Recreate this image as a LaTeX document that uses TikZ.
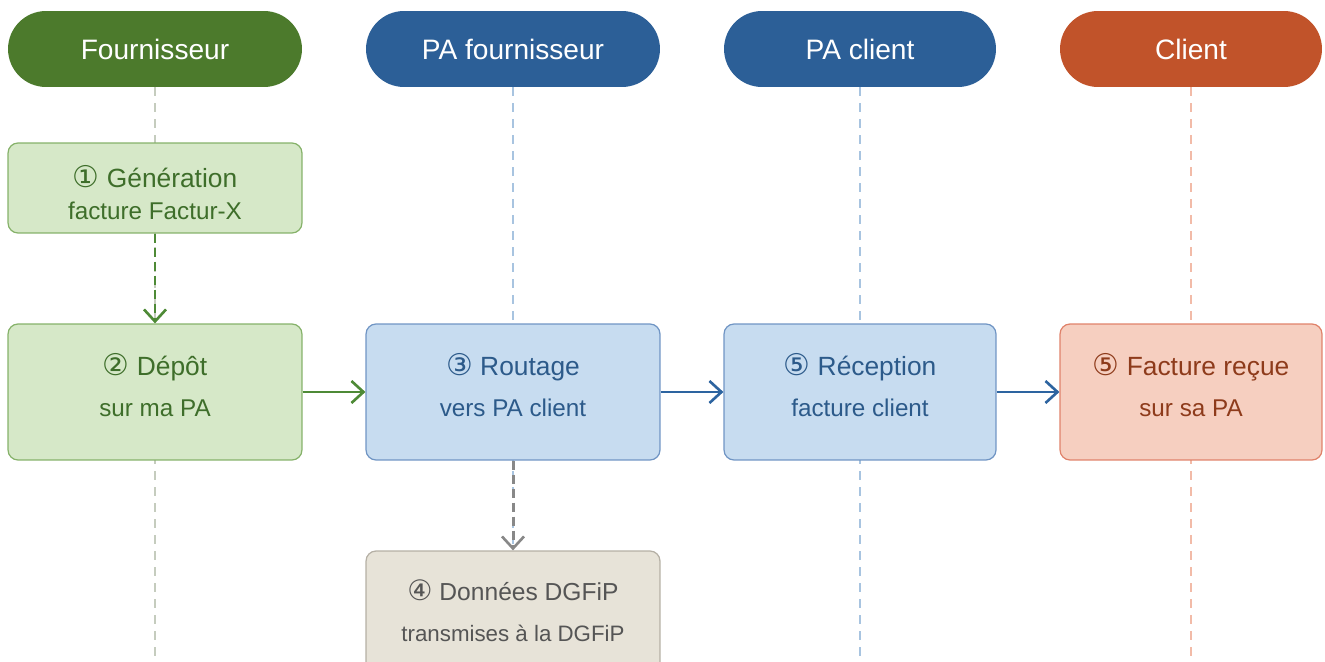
\documentclass[tikz,border=0pt]{standalone}
\usepackage{fontspec}
\setmainfont{Liberation Sans}
\newfontfamily\circfont{DejaVu Sans}
\usetikzlibrary{arrows.meta}
\definecolor{hGreen}{HTML}{4C7A2C}
\definecolor{hBlue}{HTML}{2C5F97}
\definecolor{hRed}{HTML}{C1532A}
\definecolor{gFill}{HTML}{D6E8C8}
\definecolor{gLine}{HTML}{86B26A}
\definecolor{gText}{HTML}{3E6E2A}
\definecolor{bFill}{HTML}{C7DCF0}
\definecolor{bLine}{HTML}{7095C4}
\definecolor{bText}{HTML}{2C5A8A}
\definecolor{rFill}{HTML}{F6CFC0}
\definecolor{rLine}{HTML}{E0826A}
\definecolor{rText}{HTML}{8E3B1B}
\definecolor{yFill}{HTML}{E7E3D8}
\definecolor{yLine}{HTML}{B5B0A5}
\definecolor{yText}{HTML}{555555}
\definecolor{lG}{HTML}{C5CCBE}
\definecolor{lB}{HTML}{A8C4E0}
\definecolor{lR}{HTML}{F2BBA8}
\definecolor{aG}{HTML}{4E8A36}
\definecolor{aB}{HTML}{2D64A0}
\definecolor{aY}{HTML}{888888}
\newcommand{\cnum}[1]{{\circfont\fontsize{17}{17}\selectfont #1}}
\tikzset{
  header/.style={rectangle, rounded corners=0.76cm, minimum height=1.52cm, text=white,
    font=\fontsize{16}{19}\selectfont, inner sep=0pt},
  lifeline/.style={line width=0.6pt, dash pattern=on 1.8mm off 1.4mm},
  stepbox/.style={rectangle, rounded corners=0.2cm, line width=0.7pt, minimum height=2.72cm, inner sep=0pt},
  ttl/.style={font=\fontsize{15}{18}\selectfont, inner sep=0pt},
  sub/.style={font=\fontsize{13.8}{16}\selectfont, inner sep=0pt},
  arr/.style={line width=1.5pt, -{Straight Barb[length=2.4mm,width=4.4mm,line width=1.5pt]}},
  darr/.style={arr, line width=1.7pt, dash pattern=on 1.8mm off 1mm},
}
\begin{document}
\begin{tikzpicture}[x=0.02cm,y=-0.02cm]
\path[clip] (0,0) rectangle (1325,662);
% headers
\node[header, fill=hGreen, minimum width=5.88cm] (hF) at (155,49) {Fournisseur};
\node[header, fill=hBlue, minimum width=5.88cm] (hPF) at (513,49) {PA fournisseur};
\node[header, fill=hBlue, minimum width=5.44cm] (hPC) at (860,49) {PA client};
\node[header, fill=hRed, minimum width=5.24cm] (hC) at (1191,49) {Client};
\coordinate (eF) at (155,662);
\coordinate (ePF) at (513,662);
\coordinate (ePC) at (860,662);
\coordinate (eC) at (1191,662);
% lifelines
\draw[lifeline, draw=lG] (hF.south) -- (eF);
\draw[lifeline, draw=lB] (hPF.south) -- (ePF);
\draw[lifeline, draw=lB] (hPC.south) -- (ePC);
\draw[lifeline, draw=lR] (hC.south) -- (eC);
% boxes
\node[stepbox, fill=gFill, draw=gLine, minimum width=5.88cm, minimum height=1.8cm] (b1) at (155,188) {};
\node[ttl, text=gText] (b1t) at (155,177) {\cnum{①} Génération};
\node[sub, text=gText] (b1s) at (155,211) {facture Factur-X};

\node[stepbox, fill=gFill, draw=gLine, minimum width=5.88cm] (b2) at (155,392) {};
\node[ttl, text=gText] (b2t) at (155,367) {\cnum{②} Dépôt};
\node[sub, text=gText] (b2s) at (155,408) {sur ma PA};

\node[stepbox, fill=bFill, draw=bLine, minimum width=5.88cm] (b3) at (513,392) {};
\node[ttl, text=bText] (b3t) at (513,367) {\cnum{③} Routage};
\node[sub, text=bText] (b3s) at (513,408) {vers PA client};

\node[stepbox, fill=bFill, draw=bLine, minimum width=5.44cm] (b4) at (860,392) {};
\node[ttl, text=bText] (b4t) at (860,367) {\cnum{⑤} Réception};
\node[sub, text=bText] (b4s) at (860,408) {facture client};

\node[stepbox, fill=rFill, draw=rLine, minimum width=5.24cm] (b5) at (1191,392) {};
\node[ttl, text=rText] (b5t) at (1191,367) {\cnum{⑤} Facture reçue};
\node[sub, text=rText] (b5s) at (1191,408) {sur sa PA};

\node[stepbox, fill=yFill, draw=yLine, minimum width=5.88cm, minimum height=2.6cm] (b6) at (513,616) {};
\node[ttl, text=yText, font=\fontsize{14}{17}\selectfont] (b6t) at (513,590) {{\circfont\fontsize{16}{16}\selectfont ④} Données DGFiP};
\node[sub, text=yText, font=\fontsize{12.7}{15}\selectfont] (b6s) at (513,633) {transmises à la DGFiP};
% connectors
\draw[darr, draw=aG] (b1.south) -- (b2.north);
\draw[arr, draw=aG] (b2.east) -- (b3.west);
\draw[arr, draw=aB] (b3.east) -- (b4.west);
\draw[arr, draw=aB] (b4.east) -- (b5.west);
\draw[darr, draw=aY] (b3.south) -- (b6.north);
\end{tikzpicture}
\end{document}
